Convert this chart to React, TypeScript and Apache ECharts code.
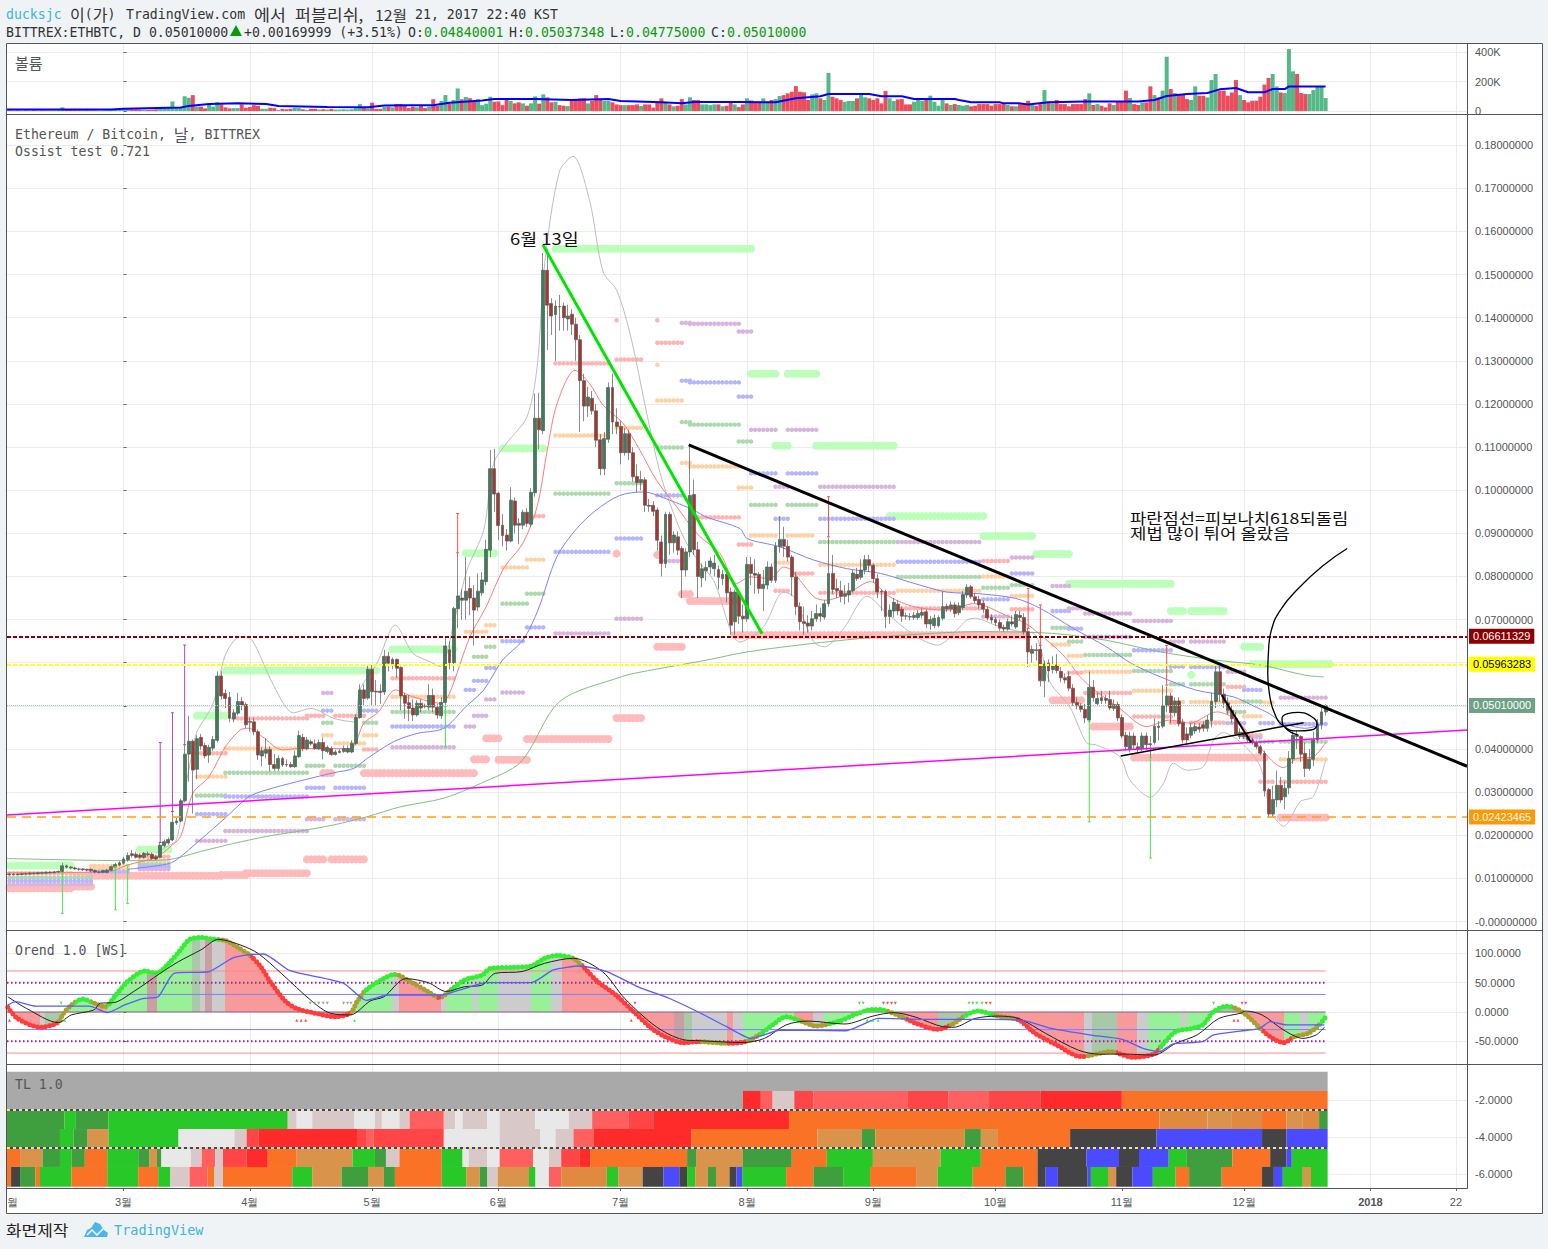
import React, { useEffect, useRef } from "react";
import * as echarts from "echarts";

// ---------- axis ticks ----------
const monthDays = [0, 31, 61, 92, 122, 153, 184, 214, 245, 275, 306, 327];
const monthNames = ["3월", "4월", "5월", "6월", "7월", "8월", "9월", "10월", "11월", "12월", "2018", "22"];
const priceTicks = [0, 0.01, 0.02, 0.03, 0.04, 0.05, 0.06, 0.07, 0.08, 0.09, 0.1, 0.11, 0.12, 0.13, 0.14, 0.15, 0.16, 0.17, 0.18];
const volumeTicks = [0, 200, 400];
const oscTicks = [-50, 0, 50, 100];
const tlTicks = [-6, -4, -2];
const firstDay = -28;

// ---------- candles: [open, close, low, high], price x 1000, one row per day ----------
const febCandles = [
  [11.0,10.9,10.6,11.3],[10.9,11.0,10.7,11.2],[11.0,10.9,10.7,11.2],[10.9,11.1,10.8,11.3],[11.1,11.0,10.8,11.3],[11.0,11.2,10.9,11.4],[11.2,11.1,10.9,11.4],
  [11.1,11.3,11.0,11.4],[11.3,11.2,11.0,11.5],[11.2,11.4,11.1,11.6],[11.4,11.3,11.1,11.6],[11.3,11.5,11.2,11.7],[11.5,11.6,11.3,11.8],[11.6,12.9,11.4,13.6],
  [12.9,12.6,12.3,13.2],[12.6,12.4,12.1,12.9],[12.4,12.2,12.0,12.7],[12.2,12.1,11.8,12.5],[12.2,12.0,11.7,12.4],[12.1,11.9,11.6,12.3],[12.1,11.8,11.5,12.3],
  [11.8,11.5,11.2,12.0],[11.4,11.5,11.2,11.8],[11.4,11.8,11.2,12.0],[11.4,11.9,11.2,12.2],[11.9,12.7,11.7,13.0],[12.6,13.2,12.3,13.6],[13.1,13.6,12.8,14.0],
];
const marCandles = [
  [13.5,14.5,13.2,15],[14.3,15.3,13.9,16],[15.7,15.3,14.8,16.6],[15.6,14.9,14.6,16.2],[15.4,14.9,14.6,15.8],[14.9,15.8,14.6,16.1],[15.7,15.5,15.1,16.2],[15.6,14.6,14.3,16],
  [15,14.5,14.2,15.4],[14.9,17.7,14.7,18.3],[17.6,18.5,17.2,19],[18.2,19,17.8,19.5],[18.9,23,18.6,25.5],[22.9,23.3,22.4,24],[23.3,28,23,28.5],[28,38.8,27.6,41],
  [38.8,41.8,32.4,47.7],[41.8,35.1,25,42.2],[35.3,42.4,33,43.2],[42.7,40.7,39.8,43.5],[40.8,38.4,37.8,41.4],[38.6,40.4,36.8,41],[40.2,42.2,39.6,43],[42,56.9,41.5,58],
  [56.9,52.3,51.5,58],[52.9,51.7,49.5,53.8],[52,47.1,46.2,53.2],[47,48.4,46.2,49.2],[48.3,51,47.8,53],[51,50.2,49,52],[50.3,45.6,44.8,50.8],
];
const aprCandles = [
  [46.4,46.2,44,47.3],[46.3,44,43.2,47.2],[44,38.6,37.5,44.5],[38.4,39.6,36,40.4],[39,39.9,37.8,42.5],[39.9,36.4,34.8,40.6],[36.4,35.5,35,38.8],[35.5,37.8,35,38.5],
  [37.8,36.3,35.8,38.2],[36.4,36.3,35.8,37.6],[36.4,35.9,35.6,37],[35.9,38.4,35.6,39.5],[38.2,43.1,38,44.2],[42.7,40.1,39.5,43.5],[40.1,42.1,39.8,42.8],[41.7,41.2,40.8,42.2],
  [41.2,40.1,39.8,42.2],[40,41.5,39.8,42.2],[41.5,39.6,37.6,42.7],[39.4,40.4,39,40.8],[40.1,38.7,38.4,40.6],[38.7,39.3,38.5,39.8],[39.2,39.5,39,40],[39.4,40.1,39.1,40.8],
  [39.3,40.1,39,40.8],[39.3,41.3,39,42],[41.3,47.3,41,48],[47.3,53.7,47,55],[53.7,51.7,50,55],[51.8,58.5,51.4,59.5],
];
const mayCandles = [
  [58.5,53.3,50,59.5],[53.4,53.2,50,56],[53.4,53.1,50.5,55],[53.2,61.5,52.5,63],[61.5,59.9,58,62.5],[59.7,60.8,58.5,61.2],[60.8,58.7,56.5,61],[58.9,52.3,49,59.2],
  [52.4,50.6,47,53],[50.7,49.4,46.5,52.5],[49.5,47.9,46.5,51.5],[47.9,50.6,47.5,51.3],[50.6,49.5,48.5,51.5],[50,49.9,49.4,50.5],[49.7,52.4,49,55],[52.4,49.7,48.5,54],
  [49.7,47.9,47,50.5],[47.7,50.8,47,52],[50.8,63.9,49.8,66],[63,60,58.5,65],[60,72.6,58,73],[72.5,75.5,68,85.5],[75,74.5,70,77],[74.5,76.6,70,84.5],
  [77.2,75,71,80],[75,72.2,64,78],[72.9,76.6,72,80.7],[76.2,79.2,75.5,81],[78.8,86.3,78,88.5],[86.1,105,84.5,109.3],[105,99.1,95,109.6],
];
const junCandles = [
  [99.3,91.8,88.4,99.6],[91.9,89.5,87,94.5],[89.6,88.2,86,91],[88.2,97.7,87.9,100.7],[97.5,91.9,90,98.3],[92.3,91.9,87.5,93.5],[91.9,94.9,91,95.5],[94.9,92.3,91.5,95.8],
  [92.1,99.5,91.5,100.5],[99.4,116.7,98.5,122.4],[116.7,114,109.5,122.6],[113.8,151,113,155],[151,142.9,132.5,156],[143.3,140.4,136,144.5],[140.7,142.7,130,144],[142.6,142.5,137,145.3],
  [142.7,140,137,143.5],[139.7,140.4,137,143],[140.8,138.5,136,142],[138.5,134.9,130,140],[134.9,125.4,113.5,136],[125.4,119.5,116,127],[119.5,121.6,117,124],[121.3,118.4,117.5,123],
  [118.4,111.6,110,120],[111.7,105,103.5,113],[105,112,103.5,113.5],[111.8,123.8,111,125],[123.8,115.8,113,127],[115.8,114.8,113,119],
];
const julCandles = [
  [114.8,108.7,106,116],[108.7,113.1,108,114.5],[113.1,108.7,107,114],[108.7,103.1,102,110],[103.2,101.8,99.5,106],[101.8,102.5,100,104.5],[102.4,96.5,95,103],[96.5,96.3,95,98],
  [96.5,95.1,94,97.5],[95.4,88.4,86,96],[88,83,80,89.5],[83,94.4,82,95],[94.4,87.8,85,95],[87.8,89.6,85.5,90.5],[89.2,86.1,85,90.5],[86.5,81.5,75,87],
  [81.5,85.7,80,86.5],[85.7,98.8,84.5,110],[99,86.2,85,102.5],[86.2,80,75,88],[79.7,81.8,77.5,83],[81.3,82.1,79,83.5],[82.2,83.6,80.5,84.5],[81.8,83.1,80,85],
  [81.6,79.8,77,82.5],[79.5,80.5,78,81.5],[80.5,76.2,74,82],[76.4,68.7,66.5,77.5],[69.5,76.4,66.5,77],[76.1,70.8,69,77],[70.8,70.2,67,73.5],
];
const augCandles = [
  [70.2,82.8,69.5,84.5],[82.8,80.7,78,84.5],[80.7,80.3,76,84],[80.5,77.2,76,81],[77.2,78.2,72,81.5],[78,82.2,77,83.5],[82.2,79.1,78.5,83],[79.1,87,78.5,88],
  [86.9,88.6,85.5,94],[88.6,87,84.5,91.5],[87,84.5,83.5,88.5],[84.5,79.9,75.5,85],[79.9,73,71,81],[73,69.5,67.5,74],[69.5,69.1,66.5,73],[69.2,68.5,67,71],
  [68.5,70.2,67.5,72],[70.2,71.4,69.5,73.5],[71.4,70.8,69.5,72.8],[70.6,73.7,70,74.5],[73.7,80.7,73,89],[80.7,77,76,85],[77.2,76.7,75,79.5],[76.7,75.4,74,79],
  [75.4,76,73.5,78],[75.7,76.7,74,78.5],[76.7,80.8,76.3,81.5],[80.5,79.5,79,82],[79.8,81.5,79.2,84],[81.5,83.9,80.5,85],[83.9,82.6,81,85],
];
const sepCandles = [
  [82.6,79.5,78.5,83],[79.5,76.4,75,80.5],[76.5,76.4,72,77],[76.5,70.7,68,77],[70.7,72.2,69,73.5],[72,74,70.5,75],[73.6,72,71,74.5],[72.4,70.8,69.5,73],
  [70.9,70.8,70,71.6],[70.7,70.6,69.8,71.5],[70.5,71,69.9,71.8],[70.5,71.4,70,72.2],[71,71.7,70.3,72.6],[71.8,69,68,72.3],[69,70,67.7,70.8],[68.6,70.3,68,71.2],
  [68.6,70.5,68.2,71],[70.3,73,69.8,76.5],[73.1,72.5,71.8,73.7],[72.5,73.4,71.8,74.2],[73.4,71.4,70.5,74],[71.6,73.2,71,74],[72.8,75.8,72.3,76.6],[75.7,77.5,75,78.2],
  [77.6,75.3,74.8,78],[75.3,74.4,73.8,76],[74.7,73.4,72.5,75.5],[73.8,72.4,71.5,74.5],[72.4,70.4,69.8,73],[70.5,69.9,69.2,71.2],
];
const octCandles = [
  [70,69.3,68.5,70.6],[69.3,68,67.4,70],[68.2,67.8,67.2,68.8],[67.8,69.5,67.4,70.2],[69.5,69,68.4,71],[68.3,71.2,67.8,72],[71,70.5,69.8,72],[70.5,67.2,66.5,71.5],
  [67.2,62.5,59,68],[62.2,63.1,60,64],[63,62.8,60.5,64.5],[63.1,55.8,54.5,64],[55.8,59.7,52,60.5],[59.9,58.1,55.5,60.8],[58.4,59.4,57.5,61.5],[59.5,58.2,57.5,62],
  [58,56.5,55.5,59],[56.5,56,55.2,57.5],[56.8,54.1,53.5,58],[54.1,50.8,50,55],[50.8,50,49.2,52],[50,49.2,48.5,50.6],[49.2,47.2,46,50.5],[46.7,54.3,46.2,58],
  [54.3,51.9,51,56],[50.5,51.7,50,53],[51.9,51.2,50.4,53.5],[51.7,51.3,50.5,52.5],[51.5,49.5,49,53.5],[49.4,50.3,48.8,51.5],[50.3,47.2,46.5,51],
];
const novCandles = [
  [47.3,43,42.5,48],[43.2,40.5,39.5,44],[39.9,43,39.2,44],[43,40.9,39.8,43.8],[40.5,40,39.2,41.5],[40.1,43,39.5,43.8],[43,41,39.8,43.8],[41.2,41,38.2,43],
  [41.5,45.3,41,47],[45.3,45,42,46.5],[45.3,50,44.8,54.8],[50,52.3,48.5,54.5],[52.3,48.4,46,53],[48.4,51.1,47.5,52],[51.1,45.9,45.2,52],[46.1,42.1,41.3,47],
  [43.5,42.1,41,45],[43.2,45,42.5,46],[44.2,45.2,43.5,46],[45.1,44.6,43.8,46],[45.6,44.8,44,46.4],[44.8,46.7,44,47.8],[46.6,51,45,53],[51,57.9,49.5,60],
  [57.9,52.7,51,60],[52.7,50.7,49.5,54],[50.7,49,48,52],[49,47,46,50],[47,43.5,43,48.5],[42.9,43.9,42.3,44.8],
];
const decCandles = [
  [43.9,42.9,42.3,44.5],[42.9,42.1,41.5,43.5],[42.1,41.5,41,42.6],[41.5,40.5,40,42],[40.5,39,38.6,41],[39,30.3,29,39.6],[30.6,24.9,24.2,31],[24.9,28.3,24.2,31.5],
  [28.2,31.6,26.5,35],[31.6,28.2,27.5,33.5],[28.9,30.9,26,32.5],[31,37.8,29.5,39.5],[37.7,43.2,36.5,44],[43.2,42.9,40,44.3],[42.9,38.8,37,43.2],[39,35.5,33.5,41.5],
  [35.5,37.6,35,40],[37.6,42.1,36,44],[42.1,45.8,41.5,47],[45.8,48.6,44.5,49.5],[48.6,50.1,47.75,50.37],
];

// ---------- volume in thousands, one per day ----------
const febVolume = [5,4,5,4,5,4,6,4,5,5,4,5,6,25,8,7,6,6,5,6,5,5,4,5,6,7,9,12];
const marVolume = [15,18,12,12,10,10,8,10,12,25,18,20,65,20,25,100,90,108,30,30,18,45,30,60,45,25,18,20,20,45,22];
const aprVolume = [28,40,35,15,15,22,20,8,15,12,15,22,20,12,8,15,15,10,12,10,15,10,10,12,10,12,20,47,22,18];
const mayVolume = [56,15,15,28,30,25,48,48,40,20,30,25,35,20,30,80,35,68,108,50,75,153,80,95,87,70,80,40,50,97,63];
const junVolume = [65,40,75,68,52,59,52,36,52,99,50,113,93,59,63,40,36,34,68,75,86,86,52,68,108,75,68,68,59,45];
const julVolume = [40,40,40,40,45,34,45,45,23,59,86,59,45,32,36,81,45,93,75,75,45,45,40,45,45,32,36,59,45,27,45];
const augVolume = [86,72,63,63,86,63,75,81,102,108,120,131,169,131,127,75,113,120,86,75,258,97,86,75,63,68,68,86,113,93,86];
const sepVolume = [75,86,52,136,86,68,79,81,45,45,63,75,70,81,104,63,36,88,52,41,47,41,36,41,32,36,47,47,47,36];
const octVolume = [47,47,47,41,32,32,47,47,70,41,36,47,142,65,52,75,47,47,32,47,47,47,81,120,41,47,36,25,52,41,65];
const novVolume = [65,138,88,47,41,59,59,167,108,92,138,368,149,122,115,110,81,75,167,104,104,92,210,251,138,138,104,126,210,108];
const decVolume = [75,59,70,70,97,179,224,251,167,126,122,420,269,251,122,115,115,142,165,165,88];
const volumeAverage = [[-28.6,11],[-3,11],[0,16],[14,24],[16,34],[21,47],[28,52],[35,47],[38,34],[50,28],[60,26],[64,38],[70,40],[76,40],[80,56],[88,72],[91,81],[101,81],[110,75],[119,81],[122,68],[132,59],[137,52],[140,61],[151,61],[160,60],[165,86],[171,100],[173,115],[183,115],[186,100],[191,100],[194,81],[204,81],[205,75],[208,59],[215,59],[216,52],[220,52],[222,45],[227,59],[236,65],[249,65],[253,75],[256,102],[261,115],[266,122],[269,147],[273,156],[276,127],[280,127],[282,149],[285,149],[286,167],[295,167]];

// ---------- moving lines: [day, price x 1000] ----------
const redAverage = [[-28.6,11.3],[-4,11.5],[1,13.1],[8,14.9],[11.4,17.3],[14,19.7],[17,29.7],[21,33.6],[25,40.5],[28.6,44.4],[30.7,44.8],[34,42.9],[39,39.8],[43,40.1],[55.6,40.1],[59,46],[62.6,48.6],[66.7,53.7],[71,52.1],[78,50.6],[80,52.9],[85,66],[89,73],[93.3,81.9],[98,87.7],[101.5,96.2],[104,109.3],[106.4,120.1],[110.8,127.8],[114.4,124.7],[117.7,119.7],[122.6,115.5],[126.7,109.3],[130.8,102.3],[135.8,96.1],[138.2,93],[141.5,89.2],[146.4,85.3],[150.5,78.4],[153.8,79.9],[158.7,79.5],[162,82.2],[164,81.4],[169.4,75.3],[172.2,74.5],[177.6,76],[183.3,78.8],[188,75.3],[194,73],[202,72.2],[208.7,73.7],[217.3,70.7],[221.4,69.1],[224.6,66.8],[230.6,61.8],[234.7,56.8],[238.8,53.3],[244.5,49.4],[251,45.2],[256.8,46.7],[261.7,46],[268.3,48.6],[273.2,46.7],[278,41.3],[284.7,35.7],[288,37.8],[292,38.2],[295,41.5]];
const blueAverage = [[1,12.1],[10.6,13.3],[13,14.3],[18.8,18.9],[25.3,24.3],[30.7,28.9],[35,30.5],[42.5,32.4],[51.6,34.5],[56.5,35.5],[59.8,37.8],[66.3,41.7],[72,43.6],[78.6,44.8],[84,49.8],[88.4,53.7],[93,60.6],[98,65.2],[101.7,72.2],[106.3,84.5],[111.2,91.1],[116,95.4],[121.8,98.8],[127.6,99.6],[134,97.7],[139.9,95.4],[143,93.8],[151.3,91.1],[153,88.8],[161,86.9],[169.4,83.8],[177.6,81.8],[185.8,80.7],[194,78.4],[202,76.4],[210,76],[219,74.9],[225,72.6],[233.2,67.9],[241.2,63.7],[247.4,59.8],[254.5,56.7],[263.4,53.6],[272.3,52.1],[277.7,49.8],[281.2,48.2],[284.8,45.9],[290,44.8],[294.5,45.8]];
const greenAverage = [[-28.6,14.6],[-14,14.3],[0.7,14.1],[10.6,14.3],[18.8,16.2],[27,18.1],[35,19.7],[43.4,21],[51.6,22.4],[59.8,24.3],[68,26.6],[78.6,28.6],[87.6,32],[97.5,37],[107,51],[122,56.7],[126.7,57.8],[143,60.6],[153,62.5],[169.4,64.5],[185.8,66],[210,67.2],[228,66.8],[241.2,65.2],[254.5,62.5],[268,60.6],[279.4,59.4],[290,57.1],[294.5,56.7]];
const grayEnvelope = [[8,16],[11,17.5],[13,19],[15,30],[17,40],[18,44],[22,50.6],[25,61.8],[28.6,66],[31,65.7],[32.7,63.3],[36.8,54.8],[41.7,48.4],[46,49.4],[51.6,47.1],[56.5,46.3],[58,53.7],[62.2,59.9],[66.7,68.7],[71,62.2],[75.3,60.2],[77.7,59.1],[81.4,70.7],[84.3,81.5],[88.4,90.8],[90.8,106.2],[94,110.9],[99,117],[101.5,128.6],[103.4,153],[107,174],[110.3,177.4],[114.4,167],[117.7,150.6],[121,146.4],[124.3,136.3],[128.4,117.8],[131.7,103.9],[135,94.6],[137.8,88.4],[141.5,83],[144.8,79.1],[151.3,64.8],[157,68.3],[162,76.4],[164.5,75.3],[169.4,64.8],[172,63.7],[176.7,67.9],[182.5,75.4],[187.4,71.4],[194,66.4],[199.7,64.1],[207,69.9],[209,70.3],[214,68.7],[219,67.4],[223.8,66.4],[227.3,55.6],[232.2,49.8],[236.3,41.5],[238.8,40.9],[244.5,38.2],[247,32.8],[252,28.8],[255.2,32],[257.6,36.7],[260.9,35.1],[265,35.9],[267.5,42.1],[269.9,43.8],[274.9,40.9],[279,35.9],[281.4,25.9],[284.7,22.1],[288.8,27.8],[292,29],[295,37.4]];

// ---------- levels: [first day, last day, price x 1000] ----------
const greenBands = [[-28,-13,13],[4,11,16.7],[18,25,47.7],[25,62,58.2],[66,81,63.1],[84,91.5,85.4],[93,103,109.7],[106,154.5,156],[154,160.5,127],[163,170.5,127],[160,163.5,110.3],[170,189.5,110.3],[188,211,94],[211,223,89.4],[224,232,85.2],[232,257,78.3],[257,260.5,72],[262,270,72],[262,262,57.2],[275,279,63.7],[277,296,59.7]];
const pinkBands = [[-28,-13,7.7],[-12,-8,8.1],[-8,24,10.6],[24,30.5,10.8],[30,45.5,11.2],[45,49,14.4],[51,59.5,14.4],[49,51.5,34.4],[59,86,34.4],[86,89,37.6],[92,99,37.5],[89,92.5,42.5],[99,119,42.3],[121,127,47.2],[131,137,63.7],[121,121,85.3],[131,131,85],[137,139,75.9],[139,150,74.3],[150,221,66.4],[228,235,51.3],[238,247,45.2],[248,280,38],[284,295,24.1]];
const pinkDots = [[-28,-13,11.2],[-12,-8,11],[4,11,15],[18,25,39],[27,45,47.1],[45,49,47.7],[52,59,47.7],[59,62,39.9],[66,81,56.4],[100,103,94],[106,119,129.4],[121,127,130.3],[131,137,134.2],[121,121,139.4],[131,131,139.4],[139,151,93.7],[151,154,87.4],[160,163,76.7],[165,169,80.7],[171,189,76.2],[190,210,72.6],[211,217,83.6],[218,223,72.4],[232,235,57.7],[236,247,53],[248,257,47.5],[257,260,46.1],[262,270,46.1],[271,275,54.4],[275,279,43.2],[279,282,32.4],[284,295,32.4]];
const orangeDots = [[-8,1,12.9],[-8,1,12.3],[4,11,14.1],[18,25,33.6],[25,45,40.1],[49,51,43.2],[52,59,41.3],[59,62,43.2],[66,81,52.1],[84,89,67.2],[89,91,68.7],[93,99,82.1],[99,103,83.9],[106,119,112.7],[121,127,114.5],[131,137,120.8],[131,131,129.1],[137,139,106.3],[139,151,105.5],[151,154,100.6],[154,160,89.5],[163,169,89.5],[160,163,83.2],[171,189,82.7],[190,210,76.7],[211,217,80],[218,223,75.5],[228,232,64.2],[232,235,61.6],[236,247,57.9],[248,257,53.5],[257,260,50.9],[262,270,50.9],[271,275,50.9],[275,279,47.6],[279,282,50.8],[284,295,37.6]];
const greenDots = [[-28,-13,10.2],[-12,-8,10.2],[4,11,13.3],[18,25,29.2],[25,45,34.5],[45,49,36.1],[52,59,36.1],[49,51,46.1],[59,62,46.1],[66,81,48.6],[86,89,61.4],[89,91,63.7],[93,99,73.7],[99,103,76],[106,119,99.2],[121,127,101.6],[131,137,109.9],[137,139,115.8],[139,151,115.2],[151,154,111.3],[154,160,96.6],[163,170,96.6],[171,189,88],[190,210,79.9],[211,217,77.4],[218,223,78],[228,232,68.1],[232,235,64.9],[236,247,61.8],[248,257,58.1],[257,260,55],[262,270,55],[271,275,48.6],[275,279,51],[279,282,41.7],[284,295,41.7]];
const blueDots = [[-28,-13,9.4],[-12,-8,9.4],[-8,1,11.6],[4,11,12.7],[18,25,24.9],[25,45,29],[45,49,31],[52,59,31],[49,51,48.9],[59,62,48.9],[66,81,45.2],[84,86,53.7],[86,89,55.8],[89,91,58.8],[93,98,65],[99,103,68.2],[106,119,85.7],[121,127,88.8],[131,137,98.8],[137,139,125.4],[139,151,125],[151,154,121.7],[154,160,103.9],[163,170,103.9],[160,163,93.4],[171,189,93.4],[190,210,83.4],[211,217,74.7],[218,223,80.7],[228,232,72],[232,235,67.9],[236,247,66],[248,257,62.9],[257,260,59.1],[262,270,59],[271,275,46],[275,279,53.7],[279,282,46],[284,295,45.8]];
const purpleDots = [[-28,-13,8.6],[-12,-8,8.6],[4,11,12.1],[18,25,18.7],[25,45,21],[45,49,23.7],[52,59,23.7],[49,51,53],[66,81,40.4],[84,86,45.2],[86,89,47.7],[89,91,51.5],[93,98,53.1],[106,119,66.8],[121,127,70.2],[132,137,83.6],[137,139,138.8],[139,151,138.6],[151,154,136.8],[154,160,114],[163,170,114],[160,163,100.8],[171,189,100.8],[190,210,88],[211,217,70.7],[218,223,84.4],[228,232,77.8],[232,235,72.6],[236,247,71.4],[248,257,69.7],[257,260,64.9],[262,270,64.9],[271,275,57.9],[275,279,42.7],[284,295,51.9]];

// ---------- long thin wick marks: [day, low, high] ----------
const purpleSpikes = [[9,18.3,41.5],[12,25.5,48.4],[15,41,64.1]];
const greenSpikes = [[-15,1.9,11.2],[-2,2.7,12.7],[1,4.2,13.1],[79,40.5,49.8],[237,23.1,46.3],[252,14.7,38]];
const redSpikes = [[82,85.5,94.6],[173,89.2,98.5],[222,68,77.2],[225,64,73.4],[256,54.8,64]];

// ---------- drawn lines: [day, price x 1000] ----------
const limeLine = [[102.9,156.9],[156.7,66.7]];
const blackLine = [[138.7,110.5],[329.7,36]];
const magentaLine = [[-28.6,24.7],[329.7,44.4]];
const riseLine = [[244.7,38.4],[289.6,46.1]];
const fallLine = [[269.5,52.5],[276.7,41.5]];
const handCurve = [[300.3,86.5],[294.5,82.6],[288.3,77.2],[283.9,72.2],[281.7,67.6],[281,62.9],[280.8,57.5],[281.2,52.9],[282.5,48.2],[284.8,45.2],[288.3,44.2],[291.4,44.4],[292.9,45.8],[291.4,47.6],[288.3,48.5],[285.7,48.2],[284.3,47.1],[285.2,44.8],[288.3,43.2]];
const priceTags = [
  { value: 0.06611329, text: "0.06611329", back: "#8b0000", ink: "#ffffff", line: "#8b0000", width: 2, dash: [4, 2] },
  { value: 0.05963283, text: "0.05963283", back: "#ffff00", ink: "#000000", line: "#ffff22", width: 2, dash: [4, 2] },
  { value: 0.0501, text: "0.05010000", back: "#6fa285", ink: "#ffffff", line: "#a9c9b5", width: 1, dash: [1, 1] },
  { value: 0.02423465, text: "0.02423465", back: "#ff9800", ink: "#ffffff", line: "#ff9f1a", width: 1.5, dash: [9, 6] },
];

// ---------- oscillator: [day, value] ----------
const oscMain = [[-28.4,8],[-26,-11],[-20.5,-26],[-16,-18],[-15,-5],[-12.8,12],[-10,22],[-6.8,14],[-4.6,9],[-1.9,29],[1,52],[5.3,70],[8,66],[10.7,80],[14,106],[16.2,124],[19,127],[22.2,124],[25,122],[28.3,109],[31,97],[33.7,77],[36,52],[39.8,18],[42.5,6],[46.3,-1],[51.8,-8],[55.6,-2.3],[57.3,17.6],[59.5,37.5],[63.9,57.4],[66.6,64.2],[70.4,51.7],[74.8,34.7],[77.5,24.4],[80.3,37.5],[83.6,54.6],[88,63],[90,74.5],[95.6,76.2],[100,78.5],[103.3,91.5],[106.6,96.7],[110.4,91.5],[112.6,78.5],[116.4,51.7],[120.8,29],[125.2,0.5],[129.6,-28],[132.9,-42],[137.2,-52.4],[141.4,-50.7],[148,-53.5],[152.7,-50.7],[156,-39],[159.3,-22],[162.6,-8],[166.6,-16.5],[170,-24],[175.9,-14.8],[179.9,-3.4],[183.9,4.5],[186.5,3.4],[190.5,-6.9],[194.5,-19.4],[199.8,-29.6],[203.8,-19.4],[206.4,-6.9],[209.7,1.7],[214.4,-6.9],[219.7,-13.7],[223.7,-36.4],[229,-56.3],[235,-76],[242.3,-67.7],[247.6,-77.4],[252.9,-71.7],[254.9,-56.3],[258.2,-33.6],[262.2,-27.9],[264.8,-22.2],[267.5,0.5],[270.8,10],[274.8,-1],[279.4,-30.7],[282,-45],[284.7,-52.4],[287.4,-42],[290.7,-36.4],[293.4,-22.2],[295,-9]];
const oscSignal = [[-28.4,26],[-23.8,6],[-16,-18],[-12.8,-5],[-7.3,3.4],[-5.7,15],[-2.4,16],[2.5,35],[9,66],[13.5,86],[19,106],[23.3,124],[28.8,114],[33,100],[38.7,66],[46.3,18],[50.7,-2],[55.6,-5],[60.6,19],[63.9,26],[69.3,57],[74.8,50],[79.2,35],[83.6,43],[88,46],[91.2,66],[97.8,69],[103.3,83],[110.4,91.6],[117.5,69],[123,23],[130.7,-25],[137.2,-47],[141.4,-49],[152,-52],[157.3,-45],[162.6,-22],[168,-15.4],[177,-20.5],[183.9,-7],[189,-1],[194.5,-9],[201,-25],[203.8,-26],[209,-11],[214.4,-7],[219.7,-11],[226.3,-36.5],[234.3,-65],[239.6,-72],[244.9,-71.7],[252.9,-73.4],[258.2,-53.5],[263.5,-39],[268.8,-11],[274,-2.3],[275.4,1.7],[279.4,-5],[284.7,-30.7],[289.4,-45],[292.7,-39],[294.7,-26]];
const oscBlue = [[-28.4,12],[-26.5,17.6],[-21.6,10],[-8.4,10],[-4,-1],[0.3,12],[4.7,23],[8.5,26],[12.4,66],[21,69],[26.6,91.5],[30,97],[34.3,99],[40.9,70.5],[54,49],[59.5,20],[65,29],[78,29],[83.6,40],[89,50],[100,50],[105.5,71.7],[112,78.5],[118.6,69],[126.3,43],[134,23],[141.4,-1.2],[148,-25],[154,-45],[161.3,-30.7],[177.2,-32],[181.2,-22],[185.2,-11],[197.1,-12.5],[213,-12.5],[221,-14.8],[227.7,-28],[237,-39],[245,-46.7],[250.2,-62],[254.2,-67.7],[257.5,-54.6],[264.8,-50.7],[267.5,-39],[274.1,-32.5],[278.8,-28],[281.4,-16.5],[285.4,-22],[294.7,-22]];
const oscLevels = [
  { value: 70, color: "#ff8a8a", dash: "solid" }, { value: 50, color: "#a020a0", dash: "dotted" }, { value: 30, color: "#7f7fff", dash: "solid" },
  { value: 0, color: "#8a5a8a", dash: "solid" }, { value: -30, color: "#7f7fff", dash: "solid" }, { value: -50, color: "#a020a0", dash: "dotted" }, { value: -70, color: "#ff8a8a", dash: "solid" },
];
// colour stops for the thick line and for the fill: [end day, colour]
const oscLineStops: [number, string][] = [[-16,"#ff3b3b"],[-12,"#a8a030"],[-8,"#33ee33"],[-4,"#a8a030"],[23.3,"#33ee33"],[31,"#a8a030"],[55.6,"#ff3b3b"],[59,"#a8a030"],[67,"#33ee33"],[77,"#a8a030"],[78,"#ff3b3b"],[80,"#a8a030"],[110,"#33ee33"],[112.6,"#a8a030"],[141.4,"#ff3b3b"],[148,"#a8a030"],[152.7,"#ff3b3b"],[156,"#a8a030"],[166,"#33ee33"],[173,"#a8a030"],[187,"#33ee33"],[192,"#a8a030"],[202.5,"#ff3b3b"],[206,"#a8a030"],[213.7,"#33ee33"],[219,"#a8a030"],[236.3,"#ff3b3b"],[243.6,"#a8a030"],[254.2,"#ff3b3b"],[272,"#33ee33"],[279.4,"#a8a030"],[286.7,"#ff3b3b"],[293.4,"#a8a030"],[296,"#33ee33"]];
const oscFillStops: [number, string][] = [[-20.5,"#f89a9a"],[-19.4,"#cccccc"],[-15.5,"#aac8aa"],[-7,"#98f098"],[-4,"#e0b0a0"],[5.8,"#98f098"],[8.2,"#c8a0a0"],[16.8,"#98f098"],[18.8,"#aac8aa"],[19.9,"#cccccc"],[21.7,"#c8a0a0"],[25,"#cccccc"],[56.5,"#f89a9a"],[66,"#98f098"],[67.7,"#cccccc"],[78,"#f89a9a"],[79.2,"#cccccc"],[85.8,"#98f098"],[87,"#cccccc"],[91.8,"#98f098"],[100,"#cccccc"],[105,"#98f098"],[107.7,"#cccccc"],[135,"#f89a9a"],[137.5,"#c8a0a0"],[139.4,"#aac8aa"],[148,"#cccccc"],[149.6,"#f89a9a"],[152,"#cccccc"],[164.6,"#98f098"],[169.3,"#f89a9a"],[172,"#cccccc"],[182.5,"#98f098"],[199.8,"#f89a9a"],[206.4,"#aac8aa"],[213.7,"#98f098"],[235.6,"#f89a9a"],[237.6,"#cccccc"],[243.9,"#a8c8a8"],[248.6,"#f89a9a"],[251.5,"#cccccc"],[259.5,"#98f098"],[261,"#cccccc"],[267.5,"#98f098"],[274.8,"#a8c8a8"],[284.7,"#f89a9a"],[288.7,"#98f098"],[290.7,"#cccccc"],[296,"#98f098"]];
// small triangles: [day, value]
const redDownMarks = [[125.5,15],[186.5,15],[187.5,15],[188.5,15],[189.4,15],[211.7,15],[212.7,15],[274.5,15],[275.4,15]];
const grayDownMarks = [[45.8,15],[46.8,15],[47.9,15],[49,15],[50,15],[54,15],[55,15],[55.8,15]];
const greenDownMarks = [[-15.3,15],[180.6,15],[181.5,15],[207.5,15],[208.4,15],[209.4,15],[210.7,15],[267.5,15]];
const redUpMarks = [[-28,-14],[42.5,-14],[43.6,-14],[44.7,-14],[124.6,-14],[272.5,-14],[273.5,-14]];
const greenUpMarks = [[-14.5,-14],[56.7,-14],[182.5,-14],[183.9,-14],[185.2,-14]];

// ---------- strip panel: colour names, then rows of [end day, colour name] ----------
const stripColors: Record<string, string> = {
  gray: "#a9a9a9", red1: "#ff2a2a", red2: "#ff4545", red3: "#ff5f5f", org: "#f97226", org2: "#e08a40", tan: "#d9934a",
  grn1: "#28c828", grn2: "#3f9f3f", wht: "#e8e8e8", pale: "#d8c8c8", drk: "#444444", blu: "#4a4aff",
};
const stripTops = [-0.47, -1.51, -2.54, -3.57, -4.59, -5.62];
const stripBottoms = [-1.51, -2.54, -3.57, -4.59, -5.62, -6.69];
const strip1: [number, string][] = [[295.5,"gray"]];
const strip2: [number, string][] = [[152,"gray"],[156.4,"red1"],[159.3,"red3"],[164.6,"pale"],[169.3,"red2"],[192.5,"red3"],[202.4,"red2"],[212.4,"red3"],[225,"red2"],[245,"red1"],[295.5,"org"]];
const strip3: [number, string][] = [[-14.5,"grn2"],[-11.7,"grn1"],[-3.7,"grn2"],[40.3,"grn1"],[42.5,"pale"],[46.3,"wht"],[56.7,"pale"],[61.7,"wht"],[63.4,"pale"],[67.7,"wht"],[70.2,"pale"],[78.6,"red3"],[81.4,"pale"],[83.2,"wht"],[89.3,"pale"],[92.3,"wht"],[101,"pale"],[109.3,"wht"],[115,"pale"],[124,"red3"],[130,"red2"],[163.3,"red1"],[254.2,"org"],[266,"org2"],[272,"tan"],[279.4,"org2"],[285.4,"org"],[289.4,"tan"],[293.4,"org2"],[295.5,"grn2"]];
const strip4: [number, string][] = [[-15.6,"grn2"],[-12.3,"grn1"],[-8.8,"grn2"],[-3.7,"tan"],[13.5,"grn1"],[27.2,"wht"],[30.2,"pale"],[33.2,"red2"],[57.3,"red1"],[59.5,"red2"],[61.4,"red3"],[78.6,"red2"],[92.3,"wht"],[102.2,"pale"],[106,"wht"],[110.4,"pale"],[115.3,"red3"],[139.4,"red1"],[170.3,"org"],[181.2,"tan"],[184.5,"grn2"],[206.4,"org2"],[210.4,"grn2"],[214.4,"tan"],[232.3,"org"],[253.5,"drk"],[279.4,"blu"],[285.4,"drk"],[295.5,"blu"]];
const strip5: [number, string][] = [[-25.4,"org"],[-19.9,"tan"],[-15.6,"grn2"],[-12.8,"grn1"],[-9.5,"grn2"],[-4,"org"],[3.6,"grn1"],[6.4,"grn2"],[8.2,"tan"],[9.3,"grn2"],[16.5,"wht"],[19.2,"pale"],[22.5,"red3"],[24.4,"pale"],[30.2,"red2"],[35.4,"red1"],[42.5,"org"],[56.2,"tan"],[61.7,"grn1"],[64.4,"grn2"],[67.7,"pale"],[78.1,"org"],[83.2,"grn1"],[84.7,"wht"],[89.3,"pale"],[92.3,"wht"],[100.5,"red3"],[104.4,"wht"],[107.4,"pale"],[112,"red2"],[114.5,"red1"],[138.3,"org"],[140.5,"grn2"],[152,"tan"],[164,"grn2"],[172.6,"org"],[183.9,"grn1"],[200.5,"tan"],[210.4,"grn1"],[224.3,"org"],[236.3,"drk"],[244.3,"blu"],[249.2,"drk"],[256.5,"blu"],[260.8,"grn1"],[272.1,"grn2"],[281.4,"org"],[285.4,"drk"],[286.7,"blu"],[295.5,"grn1"]];
const strip6: [number, string][] = [[-27.6,"org"],[-25.4,"drk"],[-21.6,"grn2"],[-20.5,"org"],[-12.8,"grn1"],[-4,"org"],[3.6,"grn1"],[8.5,"org"],[11.5,"grn1"],[16.2,"pale"],[20.6,"red3"],[22.2,"org"],[24.4,"pale"],[41.4,"org"],[46.3,"grn1"],[53.5,"tan"],[60,"grn2"],[63.9,"tan"],[66.6,"grn2"],[78.1,"org"],[84.1,"grn1"],[87.4,"tan"],[89.3,"grn2"],[91.8,"pale"],[99.5,"tan"],[101.1,"grn1"],[104.4,"wht"],[107.4,"red3"],[118.6,"org2"],[121.4,"grn1"],[127.4,"tan"],[132.5,"drk"],[136.4,"blu"],[138.3,"drk"],[140.3,"grn1"],[143.4,"tan"],[145.4,"grn2"],[148.7,"tan"],[150.4,"drk"],[151.8,"blu"],[162.6,"grn1"],[169.3,"org"],[176.6,"grn2"],[183.2,"grn1"],[194.5,"org"],[199.8,"tan"],[208.4,"grn1"],[216.4,"org"],[220.8,"grn2"],[224.3,"org"],[226.3,"drk"],[229.3,"blu"],[236.6,"drk"],[237.4,"blu"],[241.6,"grn1"],[243.6,"tan"],[247.6,"drk"],[252.6,"blu"],[258.2,"grn1"],[261.5,"org"],[269.5,"grn2"],[279.4,"org"],[282.3,"drk"],[284.5,"blu"],[289.4,"grn1"],[291.4,"tan"],[295.5,"grn1"]];
const stripRows = [strip1, strip2, strip3, strip4, strip5, strip6];
const stripDividers = [-2.54, -4.59];

// ---------- builders ----------
const axisMin = -28.6;
const axisMax = 329.7;
const SANS = "Liberation Sans, Arial, sans-serif";
const MONO = "DejaVu Sans Mono, Noto Sans CJK KR, monospace";
const KR = "Noto Sans CJK KR, sans-serif";
const milli = (rows: number[][]) => rows.map((r) => [r[0], r[1] / 1000]);
const allCandles = [...febCandles, ...marCandles, ...aprCandles, ...mayCandles, ...junCandles, ...julCandles, ...augCandles, ...sepCandles, ...octCandles, ...novCandles, ...decCandles];
const allVolume = [...febVolume, ...marVolume, ...aprVolume, ...mayVolume, ...junVolume, ...julVolume, ...augVolume, ...sepVolume, ...octVolume, ...novVolume, ...decVolume];

function levelPoints(rows: number[][]) {
  const out: number[][] = [];
  rows.forEach(([a, b, p]) => {
    for (let d = Math.ceil(a); d <= Math.floor(b); d++) out.push([d, p / 1000]);
  });
  return out;
}
function scatter(name: string, rows: number[][], color: string, size: number, opacity = 1) {
  return { name, type: "scatter", xAxisIndex: 1, yAxisIndex: 1, data: levelPoints(rows), symbolSize: size, itemStyle: { color, opacity }, z: 1, silent: true };
}
function pricePath(name: string, rows: number[][], color: string, width: number, smooth: number | boolean = false, z = 4) {
  return { name, type: "line", xAxisIndex: 1, yAxisIndex: 1, data: milli(rows), showSymbol: false, smooth, lineStyle: { color, width }, z, silent: true };
}
function spikes(name: string, rows: number[][], color: string) {
  return {
    name, type: "custom", xAxisIndex: 1, yAxisIndex: 1, z: 4, silent: true,
    data: rows.map((r) => [r[0], r[1] / 1000, r[2] / 1000]),
    encode: { x: 0, y: [1, 2] },
    renderItem: (_: any, api: any) => {
      const a = api.coord([api.value(0), api.value(1)]);
      const b = api.coord([api.value(0), api.value(2)]);
      const style = { stroke: color, lineWidth: 1 };
      return {
        type: "group",
        children: [
          { type: "line", shape: { x1: a[0], y1: a[1], x2: b[0], y2: b[1] }, style },
          { type: "line", shape: { x1: a[0] - 1.5, y1: a[1], x2: a[0] + 1.5, y2: a[1] }, style },
          { type: "line", shape: { x1: b[0] - 1.5, y1: b[1], x2: b[0] + 1.5, y2: b[1] }, style },
        ],
      };
    },
  };
}
function pieces(stops: [number, string][]) {
  let from = -40;
  return stops.map(([end, color]) => {
    const p = { gte: from, lt: end, color };
    from = end;
    return p;
  });
}
function triangles(name: string, rows: number[][], color: string, down: boolean) {
  return { name, type: "scatter", xAxisIndex: 2, yAxisIndex: 2, data: rows, symbol: "triangle", symbolRotate: down ? 180 : 0, symbolSize: 3, itemStyle: { color }, z: 6, silent: true };
}
function xAxis(gridIndex: number, bottom = false) {
  return {
    type: "value", gridIndex, min: axisMin, max: axisMax,
    axisLine: { show: false },
    axisTick: { show: bottom, length: 3, customValues: monthDays, lineStyle: { color: "#666" } },
    splitLine: { show: true, customValues: monthDays, lineStyle: { color: "#ececec", width: 1 } },
    axisLabel: bottom
      ? {
          show: true, customValues: [-27.3, ...monthDays], color: "#555", fontFamily: SANS, fontSize: 11, margin: 8, hideOverlap: false,
          formatter: (v: number) => {
            if (v < -20) return "월";
            const i = monthDays.indexOf(v);
            const t = monthNames[i];
            return t === "2018" ? "{b|2018}" : t;
          },
          rich: { b: { fontWeight: "bold", fontSize: 11, fontFamily: SANS, color: "#555" } },
        }
      : { show: false },
  };
}
function yAxis(gridIndex: number, min: number, max: number, ticks: number[], formatter: (v: number) => string) {
  return {
    type: "value", gridIndex, position: "right", min, max,
    axisLine: { show: false },
    axisTick: { show: true, length: 3, inside: false, customValues: ticks, lineStyle: { color: "#666" } },
    splitLine: { show: true, customValues: ticks, lineStyle: { color: "#ececec", width: 1 } },
    axisLabel: { show: true, customValues: ticks, color: "#555", fontFamily: SANS, fontSize: 11, margin: 8, formatter },
  };
}

function buildOption() {
  const series: any[] = [];
  // volume
  series.push({
    name: "볼륨", type: "bar", xAxisIndex: 0, yAxisIndex: 0, barWidth: 4, silent: true, z: 2,
    data: allVolume.map((v, i) => ({
      value: [firstDay + i, v],
      itemStyle: { color: allCandles[i][1] >= allCandles[i][0] ? "#53b987" : "#eb4d5c" },
    })),
  });
  series.push({ name: "volume average", type: "line", xAxisIndex: 0, yAxisIndex: 0, data: volumeAverage, showSymbol: false, lineStyle: { color: "#0000ff", width: 2 }, z: 3, silent: true });

  // main panel: levels under the candles
  series.push(scatter("green bands", greenBands, "#bbffbb", 8));
  series.push(scatter("pink bands", pinkBands, "#ffbbbb", 8));
  series.push(scatter("pink dots", pinkDots, "#ffb3b3", 4.5));
  series.push(scatter("orange dots", orangeDots, "#ffd2a6", 4.5));
  series.push(scatter("green dots", greenDots, "#aed9ae", 4.5));
  series.push(scatter("blue dots", blueDots, "#b6b6ff", 4.5));
  series.push(scatter("purple dots", purpleDots, "#d8b4de", 4.5));
  series.push(pricePath("gray envelope", grayEnvelope, "#bdbdbd", 1, 0.3, 2));
  series.push(pricePath("green average", greenAverage, "#7fbf7f", 1, 0.3, 2));
  series.push(pricePath("blue average", blueAverage, "#7f7fff", 1, 0.3, 2));
  series.push(pricePath("red average", redAverage, "#ff7a7a", 1, 0.3, 2));
  series.push({
    name: "ETHBTC", type: "candlestick", xAxisIndex: 1, yAxisIndex: 1, barWidth: 3.4, silent: true, z: 3,
    data: allCandles.map((c, i) => [firstDay + i, c[0] / 1000, c[1] / 1000, c[2] / 1000, c[3] / 1000]),
    itemStyle: { color: "#3b7f5a", color0: "#ab352c", borderColor: "#5a5a5a", borderColor0: "#5a5a5a", borderWidth: 0.7 },
    markLine: {
      silent: true, symbol: "none", animation: false, precision: 8,
      data: priceTags.map((t) => ({
        yAxis: t.value,
        lineStyle: { color: t.line, width: t.width, type: t.dash },
        label: { show: true, position: "end", formatter: t.text, color: t.ink, backgroundColor: t.back, padding: [2, 4, 2, 4], fontFamily: SANS, fontSize: 11, distance: 2 },
      })),
    },
  });
  series.push(spikes("purple wicks", purpleSpikes, "#ab47bc"));
  series.push(spikes("green wicks", greenSpikes, "#44ee44"));
  series.push(spikes("red wicks", redSpikes, "#ff5050"));
  series.push(pricePath("magenta line", magentaLine, "#ff00ff", 1.5, false, 5));
  series.push(pricePath("lime line", limeLine, "#00e600", 3, false, 5));
  series.push(pricePath("black line", blackLine, "#000000", 3, false, 5));
  series.push(pricePath("rise line", riseLine, "#000000", 1.5, false, 5));
  series.push(pricePath("fall line", fallLine, "#000000", 2, false, 5));
  series.push(pricePath("hand curve", handCurve, "#000000", 1.3, 0.5, 5));

  // oscillator
  const fillIndex = series.length;
  series.push({ name: "osc fill", type: "line", xAxisIndex: 2, yAxisIndex: 2, data: oscMain, showSymbol: false, smooth: 0.3, lineStyle: { width: 0 }, areaStyle: { opacity: 1 }, z: 1, silent: true });
  oscLevels.forEach((l) =>
    series.push({ name: "level " + l.value, type: "line", xAxisIndex: 2, yAxisIndex: 2, data: [[axisMin, l.value], [295, l.value]], showSymbol: false, lineStyle: { color: l.color, width: l.dash === "dotted" ? 2 : 1, type: l.dash === "dotted" ? [1.5, 2.5] : "solid" }, z: 2, silent: true })
  );
  const lineIndex = series.length;
  series.push({ name: "osc main", type: "line", xAxisIndex: 2, yAxisIndex: 2, data: oscMain, showSymbol: false, smooth: 0.3, lineStyle: { width: 5, cap: "round", type: [0, 4.07], join: "round" }, z: 3, silent: true });
  series.push({ name: "osc signal", type: "line", xAxisIndex: 2, yAxisIndex: 2, data: oscSignal, showSymbol: false, smooth: 0.3, lineStyle: { color: "#222", width: 1 }, z: 4, silent: true });
  series.push({ name: "osc blue", type: "line", xAxisIndex: 2, yAxisIndex: 2, data: oscBlue, showSymbol: false, smooth: 0.2, lineStyle: { color: "#5a5aff", width: 1.3 }, z: 4, silent: true });
  series.push(triangles("red down", redDownMarks, "#ff2222", true));
  series.push(triangles("gray down", grayDownMarks, "#888888", true));
  series.push(triangles("green down", greenDownMarks, "#22dd22", true));
  series.push(triangles("red up", redUpMarks, "#ff2222", false));
  series.push(triangles("green up", greenUpMarks, "#22dd22", false));

  // strips
  const stripData: any[] = [];
  stripRows.forEach((row, r) => {
    let from = axisMin;
    row.forEach(([end, key]) => {
      stripData.push([from, end, stripTops[r], stripBottoms[r], key]);
      from = end;
    });
  });
  series.push({
    name: "TL", type: "custom", xAxisIndex: 3, yAxisIndex: 3, z: 2, silent: true, data: stripData,
    encode: { x: [0, 1], y: [2, 3] },
    renderItem: (_: any, api: any) => {
      const a = api.coord([api.value(0), api.value(2)]);
      const b = api.coord([api.value(1), api.value(3)]);
      return { type: "rect", shape: { x: a[0], y: a[1], width: b[0] - a[0], height: b[1] - a[1] }, style: { fill: stripColors[api.value(4)] } };
    },
  });
  stripDividers.forEach((v) => {
    series.push({ name: "divider blue", type: "line", xAxisIndex: 3, yAxisIndex: 3, data: [[axisMin, v], [295.5, v]], showSymbol: false, lineStyle: { color: "#3333dd", width: 2 }, z: 3, silent: true });
    series.push({ name: "divider yellow", type: "line", xAxisIndex: 3, yAxisIndex: 3, data: [[axisMin, v], [295.5, v]], showSymbol: false, lineStyle: { color: "#ffee33", width: 2, type: [3, 3] }, z: 4, silent: true });
  });

  const text = (x: number, y: number, t: string, o: any = {}) => ({
    type: "text", x, y, z: 50, silent: true, scaleX: o.stretch || 1,
    style: { text: t, fill: o.fill || "#333", fontFamily: o.font || MONO, fontSize: o.size || 13.2, textVerticalAlign: "middle", textAlign: "left", fontWeight: o.weight || "normal", rich: o.rich },
  });
  const line = (x1: number, y1: number, x2: number, y2: number, color = "#555") => ({
    type: "line", z: 40, silent: true, shape: { x1, y1, x2, y2 }, style: { stroke: color, lineWidth: 1 },
  });
  const green = "#0a9a0a";
  const hangul = (fill: string) => ({ k: { fontFamily: KR, fontSize: 16, fill, fontWeight: "normal" } });

  return {
    animation: false,
    backgroundColor: "#f0f3f6",
    grid: [
      { left: 7, width: 1460, top: 44, height: 70 },
      { left: 7, width: 1460, top: 115, height: 815 },
      { left: 7, width: 1460, top: 931, height: 133 },
      { left: 7, width: 1460, top: 1065, height: 123 },
    ],
    xAxis: [xAxis(0), xAxis(1), xAxis(2), xAxis(3, true)],
    yAxis: [
      yAxis(0, -20, 454, volumeTicks, (v) => (v === 0 ? "0" : v + "K")),
      yAxis(1, -0.00197, 0.187, priceTicks, (v) => (v === 0 ? "-0.00000000" : v.toFixed(8))),
      yAxis(2, -88.7, 138.2, oscTicks, (v) => v.toFixed(4)),
      yAxis(3, -6.757, -0.108, tlTicks, (v) => v.toFixed(4)),
    ],
    visualMap: [
      { show: false, type: "piecewise", dimension: 0, seriesIndex: fillIndex, pieces: pieces(oscFillStops) },
      { show: false, type: "piecewise", dimension: 0, seriesIndex: lineIndex, pieces: pieces(oscLineStops) },
    ],
    series,
    graphic: [
      { type: "rect", z: -10, silent: true, shape: { x: 6, y: 43, width: 1536, height: 1170 }, style: { fill: "#ffffff" } },
      { type: "rect", z: 40, silent: true, shape: { x: 6.5, y: 43.5, width: 1536, height: 1170 }, style: { fill: "none", stroke: "#555", lineWidth: 1 } },
      line(7, 114.5, 1542, 114.5), line(7, 930.5, 1542, 930.5), line(7, 1064.5, 1542, 1064.5),
      line(7, 1188.5, 1467.5, 1188.5), line(1467.5, 44, 1467.5, 1188.5),
      text(6, 14, "ducksjc", { fill: "#3bb3e4" }),
      text(70, 14, "{k|이}({k|가})", { rich: hangul("#333") }),
      text(126, 14, "TradingView.com"),
      text(254, 14, "에서", { font: KR, size: 16, stretch: 1.08 }),
      text(295, 14, "퍼블리쉬,", { font: KR, size: 16, stretch: 1.08 }),
      text(375, 14, "12월", { font: KR, size: 15, stretch: 1.05 }),
      text(415, 14, "21, 2017 22:40 KST"),
      text(6, 32, "BITTREX:ETHBTC, D 0.05010000"),
      { type: "polygon", z: 50, silent: true, shape: { points: [[230, 36], [242, 36], [236, 25]] }, style: { fill: "#0a9a0a" } },
      text(244, 32, "+0.00169999 (+3.51%)"),
      text(408, 32, "O:"), text(424, 32, "0.04840001", { fill: green }),
      text(509, 32, "H:"), text(525, 32, "0.05037348", { fill: green }),
      text(610, 32, "L:"), text(626, 32, "0.04775000", { fill: green }),
      text(711, 32, "C:"), text(727, 32, "0.05010000", { fill: green }),
      text(15, 62, "볼륨", { fill: "#555", font: KR, size: 15 }),
      text(15, 134, "Ethereum / Bitcoin, {k|날}, BITTREX", { fill: "#555", rich: hangul("#555") }),
      text(15, 151, "Ossist test 0.721", { fill: "#555" }),
      text(15, 950, "Orend 1.0 [WS]", { fill: "#555" }),
      text(15, 1084, "TL 1.0", { fill: "#555" }),
      text(510, 238, "6월 13일", { font: KR, size: 16, fill: "#111", stretch: 1.15 }),
      text(1130, 518, "파란점선=피보나치618되돌림", { font: KR, size: 15, fill: "#111", stretch: 1.18 }),
      text(1130, 533, "제법 많이 튀어 올랐음", { font: KR, size: 15, fill: "#111", stretch: 1.19 }),
      text(6, 1229, "화면제작", { font: KR, size: 15, fill: "#222", stretch: 1.13 }),
      { type: "polygon", z: 50, silent: true, shape: { points: [[84, 1237], [87, 1230], [91, 1228], [95, 1222], [100, 1224], [104, 1230], [108, 1233], [107, 1237]] }, style: { fill: "#4db6e8" } },
      { type: "polyline", z: 51, silent: true, shape: { points: [[87, 1235], [92, 1230], [97, 1235], [104, 1228]] }, style: { stroke: "#ffffff", lineWidth: 1.5, fill: "none" } },
      text(114, 1230, "TradingView", { fill: "#3bb3e4", size: 13.5 }),
    ],
  };
}

export default function App() {
  const ref = useRef<HTMLDivElement>(null);
  useEffect(() => {
    const chart = echarts.init(ref.current as HTMLDivElement, undefined, { renderer: "svg" });
    chart.setOption(buildOption() as any);
    return () => chart.dispose();
  }, []);
  return <div ref={ref} style={{ position: "absolute", left: 0, top: 0, width: 1548, height: 1249 }} />;
}
